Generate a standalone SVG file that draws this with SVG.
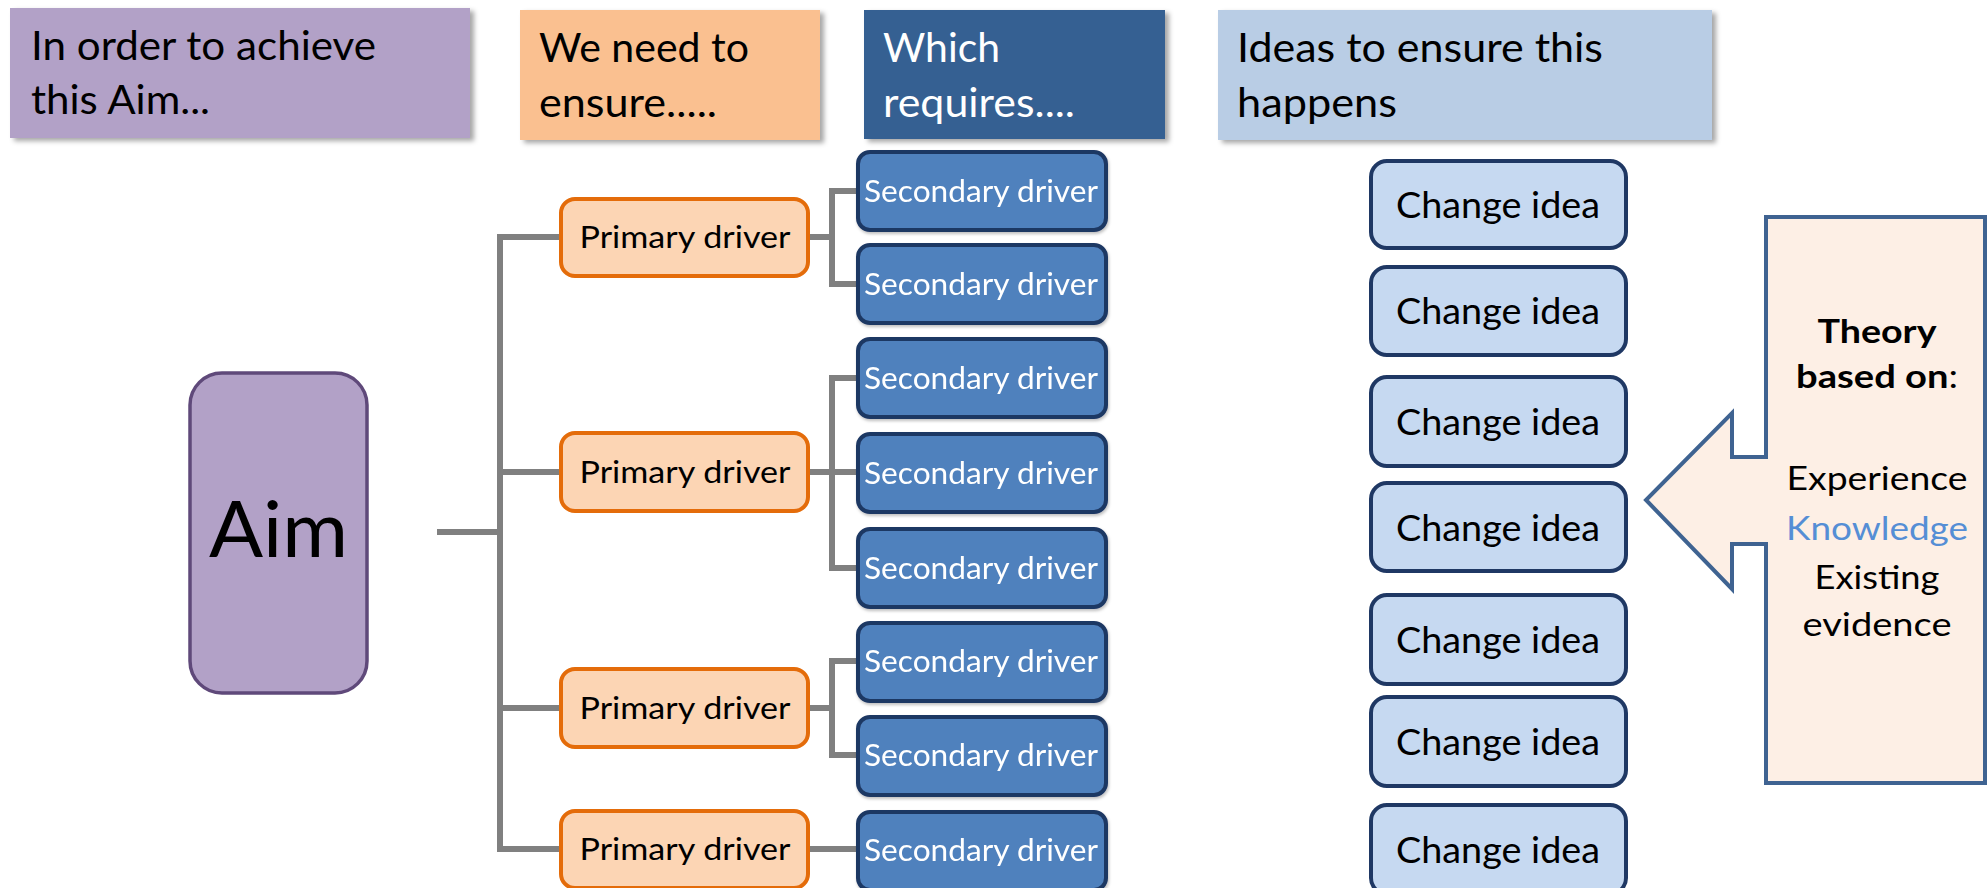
<svg xmlns="http://www.w3.org/2000/svg" width="1987" height="888" viewBox="0 0 1987 888">
  <defs>
    <filter id="shadow" x="-5%" y="-5%" width="115%" height="125%">
      <feDropShadow dx="4" dy="3" stdDeviation="2.5" flood-color="#000" flood-opacity="0.35"/>
    </filter>
    <filter id="soft" x="-5%" y="-5%" width="115%" height="125%">
      <feDropShadow dx="1" dy="2" stdDeviation="1.5" flood-color="#000" flood-opacity="0.25"/>
    </filter>
  </defs>
  <style>
    text { font-family: Lato, "Open Sans", "DejaVu Sans", sans-serif; }
    .hdr { font-size: 40px; fill: #000; }
    .hdrw { font-size: 40px; fill: #fff; }
    .conn { stroke: #808080; stroke-width: 6; fill: none; stroke-linejoin: miter; }
    .prim rect { fill: #FCD5B4; stroke: #E46C0A; stroke-width: 4; }
    .prim text { font-size: 31px; fill: #000; text-anchor: middle; }
    .sec rect { fill: #4F81BD; stroke: #1F3864; stroke-width: 4; }
    .sec text { font-size: 31px; fill: #fff; text-anchor: middle; }
    .idea rect { fill: #C6D9F1; stroke: #1F3864; stroke-width: 4; }
    .idea text { font-size: 37px; fill: #000; text-anchor: middle; }
    .th { font-size: 33px; fill: #000; text-anchor: middle; }
  </style>

  <!-- Header boxes -->
  <g id="header-aim">
    <rect x="10" y="8" width="460" height="130" fill="#B2A1C7" filter="url(#shadow)"/>
    <text class="hdr" x="31" y="60" textLength="345" lengthAdjust="spacingAndGlyphs">In order to achieve</text>
    <text class="hdr" x="31" y="114" textLength="179" lengthAdjust="spacingAndGlyphs">this Aim...</text>
  </g>
  <g id="header-ensure">
    <rect x="520" y="10" width="300" height="130" fill="#FAC090" filter="url(#shadow)"/>
    <text class="hdr" x="539" y="62" textLength="210" lengthAdjust="spacingAndGlyphs">We need to</text>
    <text class="hdr" x="539" y="117" textLength="178" lengthAdjust="spacingAndGlyphs">ensure.....</text>
  </g>
  <g id="header-requires">
    <rect x="864" y="10" width="301" height="129" fill="#366092" filter="url(#shadow)"/>
    <text class="hdrw" x="883" y="62" textLength="117" lengthAdjust="spacingAndGlyphs">Which</text>
    <text class="hdrw" x="883" y="117" textLength="192" lengthAdjust="spacingAndGlyphs">requires....</text>
  </g>
  <g id="header-ideas">
    <rect x="1218" y="10" width="494" height="130" fill="#B9CDE5" filter="url(#shadow)"/>
    <text class="hdr" x="1237" y="62" textLength="366" lengthAdjust="spacingAndGlyphs">Ideas to ensure this</text>
    <text class="hdr" x="1237" y="117" textLength="160" lengthAdjust="spacingAndGlyphs">happens</text>
  </g>

  <!-- Connectors -->
  <g id="connectors">
    <path class="conn" d="M437,532 H500"/>
    <path class="conn" d="M562,237 H500 V849 H562"/>
    <path class="conn" d="M500,472 H562"/>
    <path class="conn" d="M500,708 H562"/>
    <path class="conn" d="M808,237 H832"/>
    <path class="conn" d="M859,191 H832 V284 H859"/>
    <path class="conn" d="M808,472 H859"/>
    <path class="conn" d="M859,378 H832 V568 H859"/>
    <path class="conn" d="M808,708 H832"/>
    <path class="conn" d="M859,661 H832 V755 H859"/>
    <path class="conn" d="M808,849 H859"/>
  </g>

  <!-- Aim -->
  <g id="aim">
    <rect x="190" y="373" width="177" height="320" rx="32" fill="#B2A1C7" stroke="#5F497A" stroke-width="3.5"/>
    <text x="278.5" y="557" font-size="77" text-anchor="middle" fill="#000" textLength="139" lengthAdjust="spacingAndGlyphs">Aim</text>
  </g>

  <!-- Primary drivers -->
  <g id="primary-1" class="prim">
    <rect x="561" y="199" width="247" height="77" rx="14"/>
    <text x="685" y="248" textLength="211" lengthAdjust="spacingAndGlyphs">Primary driver</text>
  </g>
  <g id="primary-2" class="prim">
    <rect x="561" y="433" width="247" height="78" rx="14"/>
    <text x="685" y="483" textLength="211" lengthAdjust="spacingAndGlyphs">Primary driver</text>
  </g>
  <g id="primary-3" class="prim">
    <rect x="561" y="669" width="247" height="78" rx="14"/>
    <text x="685" y="719" textLength="211" lengthAdjust="spacingAndGlyphs">Primary driver</text>
  </g>
  <g id="primary-4" class="prim">
    <rect x="561" y="811" width="247" height="77" rx="14"/>
    <text x="685" y="860" textLength="211" lengthAdjust="spacingAndGlyphs">Primary driver</text>
  </g>

  <!-- Secondary drivers -->
  <g id="secondary-1" class="sec" filter="url(#soft)">
    <rect x="858" y="152" width="248" height="78" rx="12"/>
    <text x="981" y="202" textLength="234" lengthAdjust="spacingAndGlyphs">Secondary driver</text>
  </g>
  <g id="secondary-2" class="sec" filter="url(#soft)">
    <rect x="858" y="245" width="248" height="78" rx="12"/>
    <text x="981" y="295" textLength="234" lengthAdjust="spacingAndGlyphs">Secondary driver</text>
  </g>
  <g id="secondary-3" class="sec" filter="url(#soft)">
    <rect x="858" y="339" width="248" height="78" rx="12"/>
    <text x="981" y="389" textLength="234" lengthAdjust="spacingAndGlyphs">Secondary driver</text>
  </g>
  <g id="secondary-4" class="sec" filter="url(#soft)">
    <rect x="858" y="434" width="248" height="78" rx="12"/>
    <text x="981" y="484" textLength="234" lengthAdjust="spacingAndGlyphs">Secondary driver</text>
  </g>
  <g id="secondary-5" class="sec" filter="url(#soft)">
    <rect x="858" y="529" width="248" height="78" rx="12"/>
    <text x="981" y="579" textLength="234" lengthAdjust="spacingAndGlyphs">Secondary driver</text>
  </g>
  <g id="secondary-6" class="sec" filter="url(#soft)">
    <rect x="858" y="623" width="248" height="78" rx="12"/>
    <text x="981" y="672" textLength="234" lengthAdjust="spacingAndGlyphs">Secondary driver</text>
  </g>
  <g id="secondary-7" class="sec" filter="url(#soft)">
    <rect x="858" y="717" width="248" height="78" rx="12"/>
    <text x="981" y="766" textLength="234" lengthAdjust="spacingAndGlyphs">Secondary driver</text>
  </g>
  <g id="secondary-8" class="sec" filter="url(#soft)">
    <rect x="858" y="812" width="248" height="78" rx="12"/>
    <text x="981" y="861" textLength="234" lengthAdjust="spacingAndGlyphs">Secondary driver</text>
  </g>

  <!-- Change ideas -->
  <g id="idea-1" class="idea">
    <rect x="1371" y="161" width="255" height="87" rx="16"/>
    <text x="1498" y="218" textLength="204" lengthAdjust="spacingAndGlyphs">Change idea</text>
  </g>
  <g id="idea-2" class="idea">
    <rect x="1371" y="267" width="255" height="88" rx="16"/>
    <text x="1498" y="324" textLength="204" lengthAdjust="spacingAndGlyphs">Change idea</text>
  </g>
  <g id="idea-3" class="idea">
    <rect x="1371" y="377" width="255" height="89" rx="16"/>
    <text x="1498" y="435" textLength="204" lengthAdjust="spacingAndGlyphs">Change idea</text>
  </g>
  <g id="idea-4" class="idea">
    <rect x="1371" y="483" width="255" height="88" rx="16"/>
    <text x="1498" y="541" textLength="204" lengthAdjust="spacingAndGlyphs">Change idea</text>
  </g>
  <g id="idea-5" class="idea">
    <rect x="1371" y="595" width="255" height="89" rx="16"/>
    <text x="1498" y="653" textLength="204" lengthAdjust="spacingAndGlyphs">Change idea</text>
  </g>
  <g id="idea-6" class="idea">
    <rect x="1371" y="697" width="255" height="89" rx="16"/>
    <text x="1498" y="755" textLength="204" lengthAdjust="spacingAndGlyphs">Change idea</text>
  </g>
  <g id="idea-7" class="idea">
    <rect x="1371" y="805" width="255" height="89" rx="16"/>
    <text x="1498" y="863" textLength="204" lengthAdjust="spacingAndGlyphs">Change idea</text>
  </g>

  <!-- Theory callout -->
  <g id="theory">
    <path d="M1766,217 H1985 V783 H1766 V544 H1732 V589 L1646,500 L1732,413 V457 H1766 Z" fill="#FDEFE5" stroke="#3F6391" stroke-width="4" stroke-linejoin="miter"/>
    <text class="th" x="1877" y="343" font-weight="bold" textLength="119" lengthAdjust="spacingAndGlyphs">Theory</text>
    <text class="th" x="1877" y="388" textLength="162" lengthAdjust="spacingAndGlyphs"><tspan font-weight="bold">based on</tspan>:</text>
    <text class="th" x="1877" y="490" textLength="181" lengthAdjust="spacingAndGlyphs">Experience</text>
    <text class="th" x="1877" y="540" fill="#558ED5" style="fill:#558ED5" textLength="182" lengthAdjust="spacingAndGlyphs">Knowledge</text>
    <text class="th" x="1877" y="589" textLength="125" lengthAdjust="spacingAndGlyphs">Existing</text>
    <text class="th" x="1877" y="636" textLength="149" lengthAdjust="spacingAndGlyphs">evidence</text>
  </g>
</svg>
